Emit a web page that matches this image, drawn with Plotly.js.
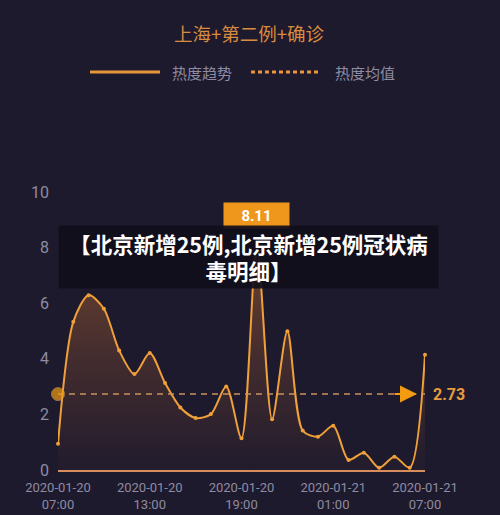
<!DOCTYPE html>
<html>
<head>
<meta charset="utf-8">
<script src="https://cdn.plot.ly/plotly-3.0.1.min.js"></script>
<style>
html,body{margin:0;padding:0;background:#1e1a2d;}
#chart{width:500px;height:515px;}
</style>
</head>
<body>
<div id="chart"></div>
<script>
// ---- data ----
const chartTitle = "上海+第二例+确诊";
const seriesName = "热度趋势";
const avgName = "热度均值";
const times = [
  "2020-01-20 07:00","2020-01-20 08:00","2020-01-20 09:00","2020-01-20 10:00",
  "2020-01-20 11:00","2020-01-20 12:00","2020-01-20 13:00","2020-01-20 14:00",
  "2020-01-20 15:00","2020-01-20 16:00","2020-01-20 17:00","2020-01-20 18:00",
  "2020-01-20 19:00","2020-01-20 20:00","2020-01-20 21:00","2020-01-20 22:00",
  "2020-01-20 23:00","2020-01-21 00:00","2020-01-21 01:00","2020-01-21 02:00",
  "2020-01-21 03:00","2020-01-21 04:00","2020-01-21 05:00","2020-01-21 06:00",
  "2020-01-21 07:00"
];
const heat = [0.94, 5.33, 6.29, 5.8, 4.3, 3.45, 4.21, 3.13, 2.25, 1.87, 2.01, 3.0,
  1.14, 8.11, 1.83, 4.99, 1.42, 1.2, 1.59, 0.36, 0.62, 0.08, 0.48, 0.08, 4.15];
const avgValue = 2.73;
const tickVals = ["2020-01-20 07:00","2020-01-20 13:00","2020-01-20 19:00","2020-01-21 01:00","2020-01-21 07:00"];
const tickText = ["2020-01-20<br>07:00","2020-01-20<br>13:00","2020-01-20<br>19:00","2020-01-21<br>01:00","2020-01-21<br>07:00"];
const yTicks = [0, 2, 4, 6, 8, 10];
const overlayText = "【北京新增25例,北京新增25例冠状病<br>毒明细】";

// ---- derived ----
const maxVal = Math.max(...heat);
const maxTime = times[heat.indexOf(maxVal)];
const firstT = times[0], lastT = times[times.length - 1];

const ORANGE = "#f0a03a";
const GREY = "#8e8ba2";
const FONT = "Roboto, 'Noto Sans CJK SC', sans-serif";
const CJK = "'Noto Sans CJK SC', Roboto, sans-serif";

const traces = [
  {
    type: "scatter", mode: "lines+markers", name: seriesName,
    x: times, y: heat,
    line: {color: ORANGE, width: 2, shape: "spline", smoothing: 0.8},
    marker: {color: ORANGE, size: 4},
    fill: "tozeroy",
    fillgradient: {type: "vertical",
      colorscale: [[0, "rgba(200,110,50,0.02)"], [0.5, "rgba(200,110,50,0.22)"], [1, "rgba(210,120,50,0.45)"]]},
    cliponaxis: false, hoverinfo: "skip"
  },
  {
    type: "scatter", mode: "lines+markers", name: avgName,
    x: [firstT, lastT], y: [avgValue, avgValue],
    line: {color: "#c9925c", width: 1.5, dash: "6px,5px"},
    marker: {color: "#f39c12", size: [13, 0]},
    cliponaxis: false, hoverinfo: "skip"
  }
];

// pixel helpers for paper coords (plot area: x 58..425, y 192..470)
const L = 58, R = 75, T = 192, B = 45;
const PW = 500 - L - R, PH = 515 - T - B;
const px = v => (v - L) / PW;
const py = v => (515 - B - v) / PH;

const layout = {
  width: 500, height: 515,
  margin: {l: L, r: R, t: T, b: B, pad: 0},
  paper_bgcolor: "#1e1a2d", plot_bgcolor: "#1e1a2d",
  font: {family: FONT, color: GREY},
  showlegend: false,
  xaxis: {
    type: "date", range: [firstT, lastT],
    tickvals: tickVals, ticktext: tickText,
    tickfont: {size: 13, color: GREY, family: FONT},
    showgrid: false, zeroline: false,
    showline: true, linecolor: "#d98c5e", linewidth: 2,
    ticks: "", ticklabelstandoff: 4, fixedrange: true
  },
  yaxis: {
    range: [0, 10], tickvals: yTicks,
    tickfont: {size: 16, color: GREY, family: FONT},
    showgrid: false, zeroline: false, showline: false,
    ticks: "", ticklabelstandoff: 8, fixedrange: true
  },
  shapes: [
    {type: "line", xref: "paper", yref: "paper", x0: px(90), x1: px(160), y0: py(72), y1: py(72),
      line: {color: "#e8963c", width: 3}},
    {type: "line", xref: "paper", yref: "paper", x0: px(251), x1: px(321), y0: py(72), y1: py(72),
      line: {color: "#e8963c", width: 3, dash: "4px,3px"}}
  ],
  annotations: [
    {xref: "paper", yref: "paper", x: px(250), y: py(33), text: chartTitle, showarrow: false,
      xanchor: "center", yanchor: "middle", font: {size: 18.5, color: "#d98b3e", family: CJK}},
    {xref: "paper", yref: "paper", x: px(170), y: py(72), text: seriesName, showarrow: false,
      xanchor: "left", yanchor: "middle", font: {size: 15, color: GREY, family: CJK}},
    {xref: "paper", yref: "paper", x: px(333), y: py(72), text: avgName, showarrow: false,
      xanchor: "left", yanchor: "middle", font: {size: 15, color: GREY, family: CJK}},
    // arrow at end of the average line
    {x: lastT, y: avgValue, ax: -32, ay: 0, showarrow: true, arrowhead: 2, arrowsize: 1.7,
      arrowwidth: 2, arrowcolor: "#f39c12", standoff: 8, text: ""},
    // average value label
    {xref: "paper", yref: "y", x: px(431), y: avgValue, text: "<b>" + avgValue.toFixed(2) + "</b>",
      showarrow: false, xanchor: "left", yanchor: "middle", font: {size: 16, color: "#e89a3e", family: FONT}},
    // max value box
    {x: maxTime, y: maxVal, text: "<b>" + maxVal.toFixed(2) + "</b>", showarrow: false,
      xanchor: "center", yanchor: "bottom", yshift: 16, width: 65, height: 25,
      bgcolor: "#ef971d", borderpad: 0, font: {size: 15, color: "#ffffff", family: FONT}},
    // caption overlay
    {xref: "paper", yref: "paper", x: px(248.5), y: py(257), text: "<b>" + overlayText + "</b>",
      showarrow: false, xanchor: "center", yanchor: "middle", width: 379, height: 62, borderpad: 0,
      bgcolor: "rgba(17,15,27,0.93)", font: {size: 21.5, color: "#ffffff", family: CJK}}
  ]
};

Plotly.newPlot("chart", traces, layout, {displayModeBar: false, staticPlot: true});
</script>
</body>
</html>
